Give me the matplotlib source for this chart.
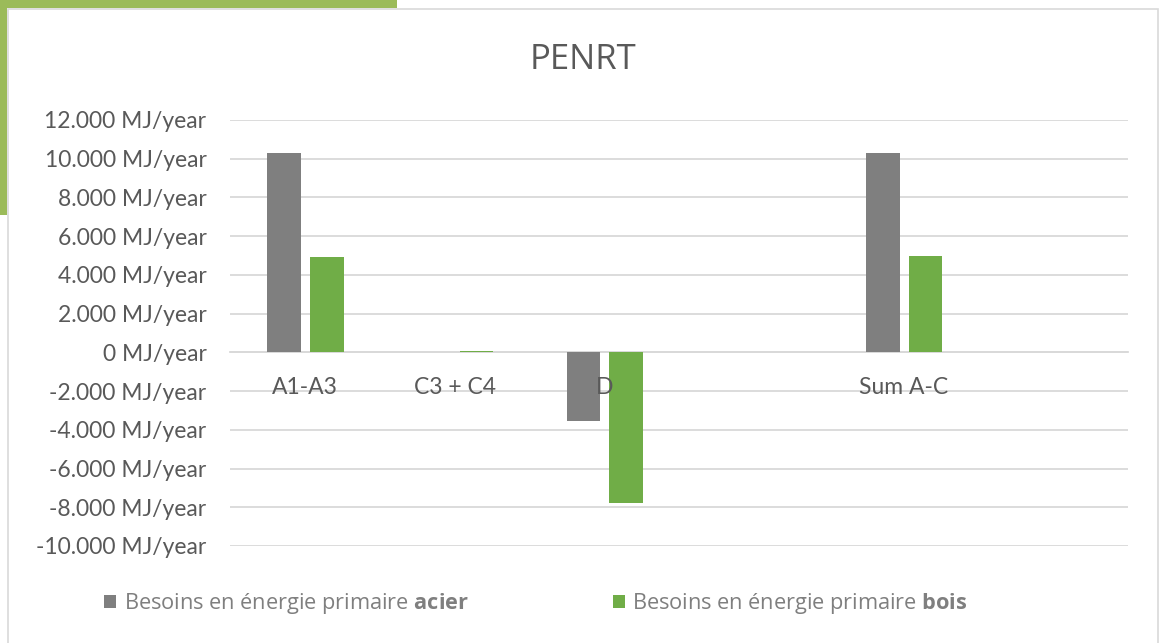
import matplotlib
matplotlib.use("Agg")
import matplotlib.pyplot as plt
from matplotlib.patches import Rectangle, Patch
from matplotlib.ticker import FuncFormatter, MultipleLocator
import numpy as np

plt.rcParams["font.family"] = ["Lato", "DejaVu Sans"]
plt.rcParams["mathtext.fontset"] = "custom"
plt.rcParams["mathtext.rm"] = "Open Sans"
plt.rcParams["mathtext.bf"] = "Open Sans:bold"

categories = ["A1-A3", "C3 + C4", "D", "", "Sum A-C", ""]
acier = [10280, 0, -3550, 0, 10280, 0]
bois = [4900, 60, -7770, 0, 4980, 0]
labels = [r"Besoins en énergie primaire $\mathbf{acier}$",
          r"Besoins en énergie primaire $\mathbf{bois}$"]

W, H = 1160, 643
fig = plt.figure(figsize=(W / 100, H / 100), dpi=100)
fig.patch.set_facecolor("white")

# decorative frame
fig.patches.append(Rectangle((0, 1 - 8 / H), 397 / W, 8 / H, transform=fig.transFigure,
                             facecolor="#9bbb59", edgecolor="none", zorder=0))
fig.patches.append(Rectangle((0, 1 - 215 / H), 7 / W, 215 / H, transform=fig.transFigure,
                             facecolor="#9bbb59", edgecolor="none", zorder=0))
fig.patches.append(Rectangle((7.5 / W, -0.01), 1150 / W, 1 - 8.5 / H + 0.01, transform=fig.transFigure,
                             facecolor="none", edgecolor="#d9d9d9", linewidth=1.2, zorder=1))

ax = fig.add_axes([230 / W, 1 - 546 / H, 898 / W, 426 / H])
x = np.arange(len(categories))
w = 0.227
ax.bar(x - 0.138, acier, width=w, color="#7f7f7f", zorder=3)
ax.bar(x + 0.147, bois, width=w, color="#70ad47", zorder=3)

ax.set_xlim(-0.5, len(categories) - 0.5)
ax.set_ylim(-10000, 12000)
ax.yaxis.set_major_locator(MultipleLocator(2000))
ax.yaxis.set_major_formatter(FuncFormatter(
    lambda v, p: f"{int(round(v)):,}".replace(",", ".") + " MJ/year"))
ax.grid(axis="y", color="#d9d9d9", linewidth=1.3, zorder=0)
for s in ["top", "right", "left"]:
    ax.spines[s].set_visible(False)
ax.spines["bottom"].set_position(("data", 0))
ax.spines["bottom"].set_color("#d9d9d9")
ax.spines["bottom"].set_linewidth(1.3)
ax.spines["bottom"].set_zorder(2)
ax.xaxis.set_zorder(5)
ax.set_xticks(x)
ax.set_xticklabels(categories)
ax.tick_params(axis="x", length=0, pad=18, labelsize=16.5, labelcolor="#595959")
ax.tick_params(axis="y", length=0, pad=17, labelsize=16.5, labelcolor="#595959")

fig.text(583 / W, 1 - 60 / H, "PENRT", ha="center", va="center", fontsize=25,
         color="#595959", family=["Open Sans", "DejaVu Sans"])

handles = [Patch(facecolor="#7f7f7f"), Patch(facecolor="#70ad47")]
leg = fig.legend(handles, labels, loc="center left", bbox_to_anchor=(104 / W, 1 - 604 / H),
                 ncol=2, frameon=False, borderpad=0, borderaxespad=0,
                 handlelength=0.55, handleheight=0.55,
                 handletextpad=0.35, columnspacing=6.6,
                 prop={"family": "Open Sans", "size": 15.7})
for t in leg.get_texts():
    t.set_color("#7f7f7f")

fig.savefig("out.png", dpi=100, facecolor="white")
